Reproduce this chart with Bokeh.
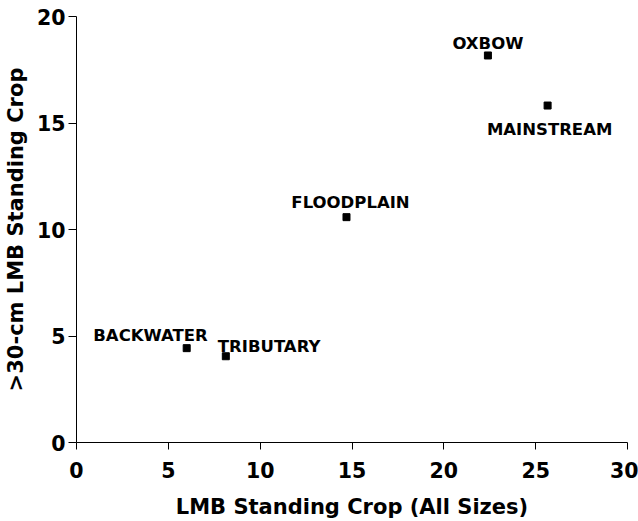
from bokeh.plotting import figure
from bokeh.models import Range1d, ColumnDataSource, FixedTicker
from bokeh.core.properties import value
from bokeh.embed import file_html
from bokeh.resources import INLINE

# Data
habitats = ["OXBOW", "MAINSTREAM", "FLOODPLAIN", "BACKWATER", "TRIBUTARY"]
all_sizes = [22.4, 25.65, 14.7, 6.0, 8.13]
over_30cm = [18.17, 15.82, 10.58, 4.43, 4.05]
x_ticks = [0, 5, 10, 15, 20, 25, 30]
y_ticks = [0, 5, 10, 15, 20]

# Label layout (screen pixel offsets from each marker)
label_align = ["center", "center", "center", "right", "left"]
label_dx = [0, 2, 4, 21, -8]
label_dy = [-12, 23.5, -15, -12.7, -9.7]

FONT = "DejaVu Sans"

p = figure(width=638, height=521, output_backend="svg", toolbar_location=None,
           x_range=Range1d(0, 30), y_range=Range1d(0, 20),
           min_border_left=73, min_border_right=11, min_border_top=16,
           min_border_bottom=79)
p.outline_line_color = None
p.xgrid.visible = False
p.ygrid.visible = False
p.background_fill_color = "white"
p.border_fill_color = "white"

for ax in (p.xaxis[0], p.yaxis[0]):
    ax.axis_line_color = "black"
    ax.axis_line_width = 1
    ax.major_tick_line_color = "black"
    ax.minor_tick_line_color = None
    ax.major_tick_in = 0
    ax.major_label_text_font = FONT
    ax.major_label_text_font_style = "bold"
    ax.major_label_text_font_size = "20.5px"
    ax.major_label_text_color = "black"
    ax.axis_label_text_font = FONT
    ax.axis_label_text_font_style = "bold"
    ax.axis_label_text_font_size = "21px"
    ax.axis_label_text_color = "black"

p.xaxis.ticker = FixedTicker(ticks=x_ticks)
p.yaxis.ticker = FixedTicker(ticks=y_ticks)
p.xaxis.axis_label = "LMB Standing Crop (All Sizes)"
p.yaxis.axis_label = ">30-cm LMB Standing Crop"
p.xaxis.major_tick_out = 7
p.yaxis.major_tick_out = 8
p.xaxis.major_label_standoff = 12
p.yaxis.major_label_standoff = 3
p.xaxis.axis_label_standoff = 14
p.yaxis.axis_label_standoff = 6

src = ColumnDataSource(dict(x=all_sizes, y=over_30cm, name=habitats,
                            align=label_align, dx=label_dx, dy=label_dy))

p.scatter("x", "y", source=src, marker="square", size=7,
          fill_color="black", line_color="black")
p.text("x", "y", text="name", source=src, x_offset="dx", y_offset="dy",
       text_align="align", text_baseline="alphabetic",
       text_font=value(FONT), text_font_style="bold", text_font_size="16.5px",
       text_color="black")

open("out.html", "w").write(file_html(p, INLINE))
